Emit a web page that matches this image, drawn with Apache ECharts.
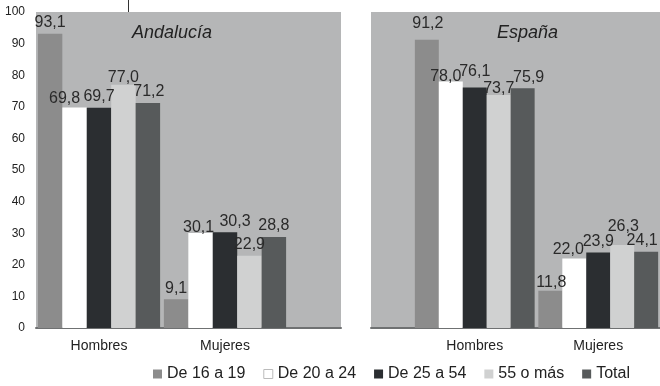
<!DOCTYPE html>
<html><head><meta charset="utf-8">
<script src="https://cdn.jsdelivr.net/npm/echarts@6/dist/echarts.min.js"></script>
<style>html,body{margin:0;padding:0;background:#fff}#c{width:660px;height:386px}</style>
</head><body><div id="c"></div>
<script>
var categories = ['Hombres', 'Mujeres'];
var seriesNames = ['De 16 a 19', 'De 20 a 24', 'De 25 a 54', '55 o más', 'Total'];
var andalucia16 = [93.1, 9.1];
var andalucia20 = [69.8, 30.1];
var andalucia25 = [69.7, 30.3];
var andalucia55 = [77.0, 22.9];
var andaluciaTotal = [71.2, 28.8];
var espana16 = [91.2, 11.8];
var espana20 = [78.0, 22.0];
var espana25 = [76.1, 23.9];
var espana55 = [73.7, 26.3];
var espanaTotal = [75.9, 24.1];
var panelTitles = ['Andalucía', 'España'];
var yTicks = [0, 10, 20, 30, 40, 50, 60, 70, 80, 90, 100];

// label nudges (pixels) as placed in the original figure: [series][category] -> [dx, dy]
var andaluciaLabelNudge = [[[0,0],[0,0]], [[-10,2],[-2,6]], [[0,0],[10,0]], [[0,4],[0,0]], [[1,0],[0,0]]];
var espanaLabelNudge = [[[1,-5],[1,3]], [[-5,6],[-6,2]], [[0,-5],[0,0]], [[0,4],[1,-7]], [[6,0],[-4,0]]];

var colors = ['#8c8c8c', '#ffffff', '#2b2e31', '#d0d1d1', '#575a5b'];
var andaluciaData = [andalucia16, andalucia20, andalucia25, andalucia55, andaluciaTotal];
var espanaData = [espana16, espana20, espana25, espana55, espanaTotal];

var chart = echarts.init(document.getElementById('c'));
var TOP = 12, BOTTOM = 58;
var grids = [
  {left: 36, top: TOP, width: 305, bottom: BOTTOM, show: true, backgroundColor: '#b5b6b7', borderWidth: 0},
  {left: 371, top: TOP, right: 0, bottom: BOTTOM, show: true, backgroundColor: '#b5b6b7', borderWidth: 0},
  {left: 36, top: TOP, width: 252, bottom: BOTTOM},
  {left: 413, top: TOP, width: 252, bottom: BOTTOM}
];
function bgX(i){return {type:'value', gridIndex:i, min:0, max:1, axisLine:{show:true, onZero:false, lineStyle:{color:'#6f7172', width:2}}, axisLabel:{show:false}, axisTick:{show:false}, splitLine:{show:false}};}
function bgY(i){return {type:'value', gridIndex:i, min:0, max:1, show:false};}
function barX(i){return {type:'category', gridIndex:i, data:categories, axisLine:{show:false}, axisTick:{show:false},
  axisLabel:{color:'#222', fontSize:14, fontFamily:'Liberation Sans, Arial', margin:11}};}
function barY(i, showLabels){return {type:'value', gridIndex:i, min:0, max:100, interval:10, splitLine:{show:false}, axisLine:{show:false}, axisTick:{show:false},
  axisLabel:{show:showLabels, color:'#222', fontSize:12, fontFamily:'Liberation Sans, Arial', margin:11,
    formatter:function(v){return yTicks.indexOf(v)>=0? String(v):'';}}};}

var series = [];
function addSeries(dataSets, nudges, axisIdx){
  dataSets.forEach(function(d, k){
    series.push({
      name: seriesNames[k], type:'bar', xAxisIndex: axisIdx, yAxisIndex: axisIdx,
      data: d.map(function(v, j){ return {value: v, label: {offset: nudges[k][j]}}; }),
      barGap: '0%', barCategoryGap: '3%',
      itemStyle: {color: colors[k]},
      label: {show:true, position:'top', distance:3, color:'#2a2a2a', fontSize:16, fontFamily:'Liberation Sans, Arial',
        formatter:function(p){return p.value.toFixed(1).replace('.', ',');}}
    });
  });
}
addSeries(andaluciaData, andaluciaLabelNudge, 2);
addSeries(espanaData, espanaLabelNudge, 3);

chart.setOption({
  animation: false,
  grid: grids,
  xAxis: [bgX(0), bgX(1), barX(2), barX(3)],
  yAxis: [bgY(0), bgY(1), barY(2, true), barY(3, false)],
  legend: {
    left: 148, top: 361, itemWidth: 9, itemHeight: 9, itemGap: 18,
    icon: 'rect',
    textStyle: {color:'#222', fontSize:16, fontFamily:'Liberation Sans, Arial'},
    data: seriesNames.map(function(n, k){
      return k === 1 ? {name:n, itemStyle:{color:'#fff', borderColor:'#bbb', borderWidth:1}} : {name:n};
    })
  },
  graphic: [
    {type:'text', left: 132, top: 24, style:{text: panelTitles[0], fill:'#222', font:'italic 18px "Liberation Sans", Arial'}},
    {type:'text', left: 497, top: 24, style:{text: panelTitles[1], fill:'#222', font:'italic 18px "Liberation Sans", Arial'}},
    {type:'line', shape:{x1:128.5, y1:0, x2:128.5, y2:12}, style:{stroke:'#333', lineWidth:1}}
  ],
  series: series
});
</script></body></html>
